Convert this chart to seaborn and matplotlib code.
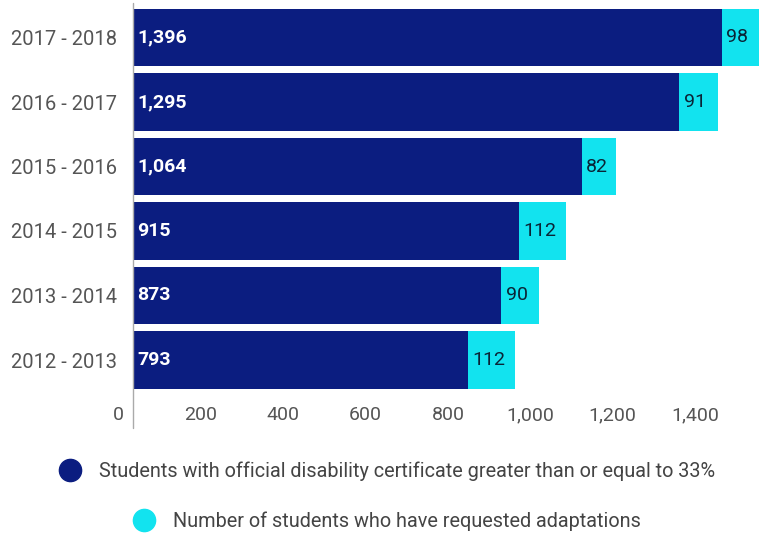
import matplotlib
matplotlib.use("Agg")
import matplotlib.pyplot as plt
import matplotlib.transforms as mtransforms
from matplotlib.lines import Line2D
import pandas as pd
import seaborn as sns

# Data, top bar first
years = ["2017 - 2018", "2016 - 2017", "2015 - 2016", "2014 - 2015", "2013 - 2014", "2012 - 2013"]
certified = [1396, 1295, 1064, 915, 873, 793]
adaptations = [98, 91, 82, 112, 90, 112]
tick_values = [0, 200, 400, 600, 800, 1000, 1200, 1400]

NAVY = "#0b1d80"
CYAN = "#12e3ef"
GREY_TEXT = "#555555"

sns.set_style("white")
plt.rcParams["font.family"] = ["Roboto", "DejaVu Sans"]

df = pd.DataFrame({
    "year": years,
    "certified": certified,
    "total": [c + a for c, a in zip(certified, adaptations)],
})

W, H = 759, 534
fig = plt.figure(figsize=(W / 100, H / 100), dpi=100)
ax = fig.add_axes([118.7 / W, 1 - 392.25 / H, 1 - 118.7 / W, 387 / H])

# stacked: full total in cyan behind, certified in navy on top
sns.barplot(data=df, x="total", y="year", color=CYAN, saturation=1, width=0.885,
            linewidth=0, ax=ax)
sns.barplot(data=df, x="certified", y="year", color=NAVY, saturation=1, width=0.885,
            linewidth=0, ax=ax)

ax.set_xlim(-34, 1484)
ax.set_ylim(5.5, -0.5)
for s in ax.spines.values():
    s.set_visible(False)
ax.axvline(0, ymin=-0.092, ymax=1.006, clip_on=False, color="#aaaaaa", lw=1)

# value labels
off_in = mtransforms.ScaledTranslation(4 / 100, 0, fig.dpi_scale_trans)
off_cy = mtransforms.ScaledTranslation(4.5 / 100, 0, fig.dpi_scale_trans)
for i, (c, a) in enumerate(zip(certified, adaptations)):
    ax.text(0, i, f"{c:,}", color="white", fontsize=14, fontweight="bold",
            va="center", ha="left", transform=ax.transData + off_in)
    ax.text(c, i, f"{a}", color="#0a2436", fontsize=14,
            va="center", ha="left", transform=ax.transData + off_cy)

# the source's tick labels sit on a slightly compressed scale
ax.set_xticks([-34 + 0.9758 * v for v in tick_values])
ax.set_xticklabels([f"{v:,}" for v in tick_values])
ax.tick_params(axis="x", length=0, pad=10, labelsize=14, labelcolor=GREY_TEXT)
ax.tick_params(axis="y", length=0, pad=1.5, labelsize=14.5, labelcolor=GREY_TEXT)
ax.set_xlabel("")
ax.set_ylabel("")

# legend, one centred row per series
labels = ["Students with official disability certificate greater than or equal to 33%",
          "Number of students who have requested adaptations"]
for color, label, yc in [(NAVY, labels[0], 471), (CYAN, labels[1], 521)]:
    h = Line2D([], [], marker="o", linestyle="", markersize=16,
               markerfacecolor=color, markeredgecolor=color)
    fig.legend([h], [label], loc="center", bbox_to_anchor=(387 / W, 1 - yc / H),
               frameon=False, fontsize=14.3, labelcolor="#444444",
               handlelength=1.1, handletextpad=0.9, borderpad=0, borderaxespad=0)

fig.savefig("out.png", dpi=100)
